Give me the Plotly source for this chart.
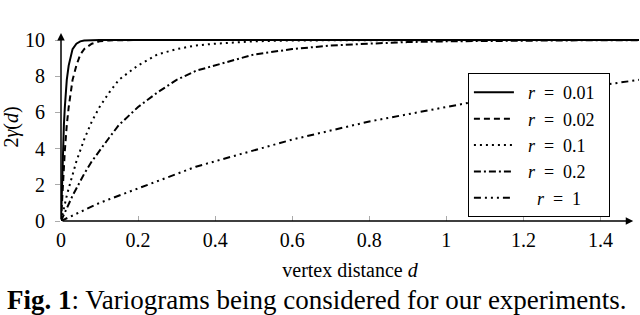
import plotly.graph_objects as go

d = [0, 0.0025, 0.005, 0.0075, 0.01, 0.015, 0.02, 0.03, 0.04, 0.05, 0.06, 0.08, 0.1,
     0.125, 0.15, 0.2, 0.25, 0.3, 0.35, 0.4, 0.5, 0.6, 0.7, 0.8, 0.9, 1.0,
     1.1, 1.2, 1.3, 1.4, 1.5]

v_r001 = [0, 2.2, 3.9, 5.3, 6.3, 7.8, 8.6, 9.5, 9.8, 9.93, 9.98, 10, 10,
          10, 10, 10, 10, 10, 10, 10, 10, 10, 10, 10, 10, 10,
          10, 10, 10, 10, 10]
v_r002 = [0, 1.2, 2.2, 3.1, 3.9, 5.3, 6.3, 7.8, 8.6, 9.2, 9.5, 9.8, 9.93,
          9.98, 10, 10, 10, 10, 10, 10, 10, 10, 10, 10, 10, 10,
          10, 10, 10, 10, 10]
v_r01 = [0, 0.25, 0.5, 0.7, 1.0, 1.4, 1.8, 2.6, 3.3, 3.9, 4.5, 5.5, 6.3,
         7.1, 7.8, 8.6, 9.2, 9.5, 9.7, 9.8, 9.93, 9.98, 9.99, 10, 10, 10,
         10, 10, 10, 10, 10]
v_r02 = [0, 0.12, 0.25, 0.37, 0.5, 0.7, 1.0, 1.4, 1.8, 2.2, 2.6, 3.3, 3.9,
         4.6, 5.3, 6.3, 7.1, 7.8, 8.3, 8.6, 9.2, 9.5, 9.7, 9.8, 9.89, 9.93,
         9.96, 9.98, 9.98, 9.99, 9.99]
v_r1 = [0, 0.025, 0.05, 0.075, 0.1, 0.15, 0.2, 0.3, 0.4, 0.5, 0.6, 0.8, 1.0,
        1.2, 1.4, 1.8, 2.2, 2.6, 3.0, 3.3, 3.9, 4.5, 5.0, 5.5, 5.9, 6.3,
        6.7, 7.0, 7.3, 7.5, 7.8]

series = [
    ("&nbsp;&nbsp;<i>r</i>  =  0.01&nbsp;&nbsp;", v_r001, "solid"),
    ("&nbsp;&nbsp;<i>r</i>  =  0.02&nbsp;&nbsp;", v_r002, "6px,4px"),
    ("&nbsp;&nbsp;<i>r</i>  =  0.1", v_r01, "2px,4px"),
    ("&nbsp;&nbsp;<i>r</i>  =  0.2", v_r02, "7px,3px,2px,3px"),
    ("&nbsp;&nbsp;&nbsp;&nbsp;<i>r</i>  =  1", v_r1, "7px,4px,2px,4px,2px,4px,2px,4px"),
]

x_ticks = [0, 0.2, 0.4, 0.6, 0.8, 1.0, 1.2, 1.4]
x_labels = ["0", "0.2", "0.4", "0.6", "0.8", "1", "1.2", "1.4"]
y_ticks = [0, 2, 4, 6, 8, 10]

serif = "Liberation Serif"

fig = go.Figure()
for name, vals, dash in series:
    fig.add_trace(go.Scatter(x=d, y=vals, mode="lines", name=name,
                             line=dict(color="black", width=2, dash=dash)))

fig.update_layout(
    width=640, height=315,
    margin=dict(l=61, r=1, t=33, b=94),
    paper_bgcolor="white", plot_bgcolor="white",
    font=dict(family=serif, size=20, color="black"),
    showlegend=True,
    legend=dict(x=0.704, y=0.787, xanchor="left", yanchor="top",
                bgcolor="white", bordercolor="black", borderwidth=1,
                font=dict(family=serif, size=18),
                tracegroupgap=0, itemwidth=40),
    xaxis=dict(range=[0, 1.5], tickvals=x_ticks, ticktext=x_labels,
               showgrid=False, zeroline=False, showline=False,
               ticks="inside", ticklen=5, tickcolor="#aaaaaa",
               ticklabelstandoff=5,
               tickfont=dict(family=serif, size=20),
               title=dict(text="vertex distance <i>d</i>",
                          font=dict(family=serif, size=20), standoff=12)),
    yaxis=dict(range=[0, 10.39], tickvals=y_ticks,
               showgrid=False, zeroline=False, showline=False,
               ticks="outside", ticklen=5, tickcolor="#aaaaaa",
               ticklabelstandoff=6,
               tickfont=dict(family=serif, size=20),
               title=dict(text="2<i>γ</i>(<i>d</i>)",
                          font=dict(family=serif, size=20), standoff=8)),
)

# axis arrows
fig.add_annotation(x=1.485, y=0, ax=0, ay=0, xref="x", yref="y", axref="x", ayref="y",
                   showarrow=True, arrowhead=2, arrowsize=1, arrowwidth=1.5,
                   arrowcolor="black", text="")
fig.add_annotation(x=0, y=10.39, ax=0, ay=0, xref="x", yref="y", axref="x", ayref="y",
                   showarrow=True, arrowhead=2, arrowsize=1, arrowwidth=1.5,
                   arrowcolor="black", text="")

# caption
fig.add_annotation(x=-0.097, y=-0.332, xref="paper", yref="paper",
                   xanchor="left", yanchor="top", showarrow=False,
                   text="<b>Fig. 1</b>: Variograms being considered for our experiments.",
                   font=dict(family=serif, size=27, color="black"))

fig.write_html("out.html", config={"displayModeBar": False},
               post_script="document.body.style.margin='0px';")
